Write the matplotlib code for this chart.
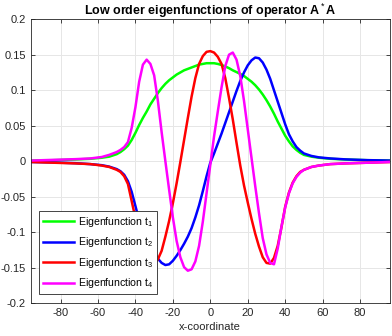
import numpy as np
import matplotlib
matplotlib.use('Agg')
import matplotlib.pyplot as plt

# sample positions along x
x = [-96, -84, -72, -64, -58, -54,
     -50, -48, -46, -44, -42, -40, -38, -36, -34, -32, -30, -28, -26, -24, -22, -20,
     -18, -16, -14, -12, -10, -8, -6, -4, -2, 0, 2, 4, 6, 8, 10, 12, 14, 16, 18, 20,
     22, 24, 26, 28, 30, 32, 34, 36, 38, 40, 42, 44, 46, 48, 50,
     54, 58, 64, 72, 84, 96]

t1 = [0.001, 0.0015, 0.0025, 0.0035, 0.005, 0.0065,
      0.010, 0.013, 0.017, 0.022, 0.030, 0.040, 0.051, 0.061, 0.070, 0.080, 0.088, 0.096,
      0.103, 0.109, 0.114, 0.118, 0.122, 0.125, 0.128, 0.130, 0.132, 0.134, 0.136, 0.137,
      0.138, 0.138, 0.138, 0.137, 0.1355, 0.1335, 0.131, 0.128, 0.1255, 0.123, 0.120,
      0.116, 0.112, 0.107, 0.101, 0.094, 0.086, 0.077, 0.067, 0.056, 0.046, 0.036, 0.028,
      0.021, 0.016, 0.012, 0.009,
      0.0065, 0.005, 0.0035, 0.0025, 0.0015, 0.001]

t2 = [-0.001, -0.0016, -0.0027, -0.004, -0.0055, -0.0075,
      -0.011, -0.014, -0.019, -0.028, -0.043, -0.063, -0.083, -0.097, -0.108, -0.120,
      -0.128, -0.137, -0.143, -0.146, -0.145, -0.140, -0.133, -0.125, -0.116, -0.106,
      -0.094, -0.079, -0.062, -0.042, -0.021, -0.002, 0.011, 0.025, 0.039, 0.054, 0.069,
      0.084, 0.099, 0.113, 0.125, 0.135, 0.142, 0.146, 0.145, 0.139, 0.129, 0.116,
      0.100, 0.084, 0.068, 0.052, 0.038, 0.028, 0.020, 0.015, 0.011,
      0.0075, 0.0055, 0.004, 0.0027, 0.0016, 0.001]

t3 = [-0.001, -0.002, -0.003, -0.004, -0.006, -0.008,
      -0.012, -0.015, -0.021, -0.032, -0.056, -0.080, -0.104, -0.122, -0.136, -0.144,
      -0.144, -0.138, -0.126, -0.106, -0.084, -0.059, -0.031, -0.001, 0.030, 0.061,
      0.091, 0.117, 0.137, 0.148, 0.154, 0.155, 0.153, 0.147, 0.137, 0.117, 0.089,
      0.059, 0.026, -0.006, -0.034, -0.058, -0.081, -0.102, -0.120, -0.135, -0.143,
      -0.144, -0.136, -0.119, -0.093, -0.064, -0.044, -0.030, -0.021, -0.015, -0.012,
      -0.008, -0.006, -0.004, -0.003, -0.002, -0.001]

t4 = [0.001, 0.002, 0.003, 0.004, 0.006, 0.009,
      0.013, 0.016, 0.020, 0.027, 0.047, 0.076, 0.112, 0.136, 0.143, 0.137, 0.121,
      0.085, 0.041, 0.000, -0.040, -0.079, -0.112, -0.135, -0.149, -0.154, -0.152,
      -0.141, -0.119, -0.085, -0.045, -0.005, 0.035, 0.070, 0.104, 0.134, 0.150, 0.153,
      0.143, 0.120, 0.085, 0.045, 0.005, -0.035, -0.073, -0.108, -0.131, -0.143, -0.145,
      -0.123, -0.092, -0.065, -0.045, -0.031, -0.022, -0.016, -0.012,
      -0.008, -0.006, -0.004, -0.003, -0.002, -0.001]

labels = ['Eigenfunction t$_1$', 'Eigenfunction t$_2$',
          'Eigenfunction t$_3$', 'Eigenfunction t$_4$']
colors = ['#00ff00', '#0000ff', '#ff0000', '#ff00ff']
yticks = [-0.2, -0.15, -0.1, -0.05, 0, 0.05, 0.1, 0.15, 0.2]
ytick_labels = ['-0.2', '-0.15', '-0.1', '-0.05', '0', '0.05', '0.1', '0.15', '0.2']
xticks = [-80, -60, -40, -20, 0, 20, 40, 60, 80]

plt.rcParams['font.family'] = ['Liberation Sans', 'DejaVu Sans']
plt.rcParams['mathtext.fontset'] = 'custom'
plt.rcParams['mathtext.rm'] = 'Liberation Sans'
plt.rcParams['mathtext.it'] = 'Liberation Sans'
plt.rcParams['axes.unicode_minus'] = False

fig = plt.figure(figsize=(3.92, 3.36), dpi=100)
ax = fig.add_axes([0.078, 0.097, 0.917, 0.846])

for y, c, lab in zip([t1, t2, t3, t4], colors, labels):
    ax.plot(x, y, color=c, lw=1.8, label=lab, solid_joinstyle='round')

ax.set_xlim(-96, 96)
ax.set_ylim(-0.2, 0.2)
ax.set_xticks(xticks)
ax.set_yticks(yticks)
ax.set_yticklabels(ytick_labels)
ax.grid(True, color='#e6e6e6', lw=0.7)
ax.set_axisbelow(True)
ax.tick_params(direction='in', top=True, right=True, labelsize=8,
               colors='#262626', length=3, width=0.6)
for s in ax.spines.values():
    s.set_color('#262626')
    s.set_linewidth(0.6)

ax.set_title('Low order eigenfunctions of operator A$^*$A', fontsize=9,
             fontweight='bold', pad=3)
ax.set_xlabel('x-coordinate', fontsize=8, color='#262626', labelpad=3)

leg = ax.legend(loc='lower left', bbox_to_anchor=(0.024, 0.033), borderaxespad=0,
                fontsize=7.6, fancybox=False, edgecolor='#262626', framealpha=1,
                handlelength=2.9, handletextpad=0.4, labelspacing=0.62,
                borderpad=0.35)
leg.get_frame().set_linewidth(0.6)

fig.savefig('out.png', dpi=100)
